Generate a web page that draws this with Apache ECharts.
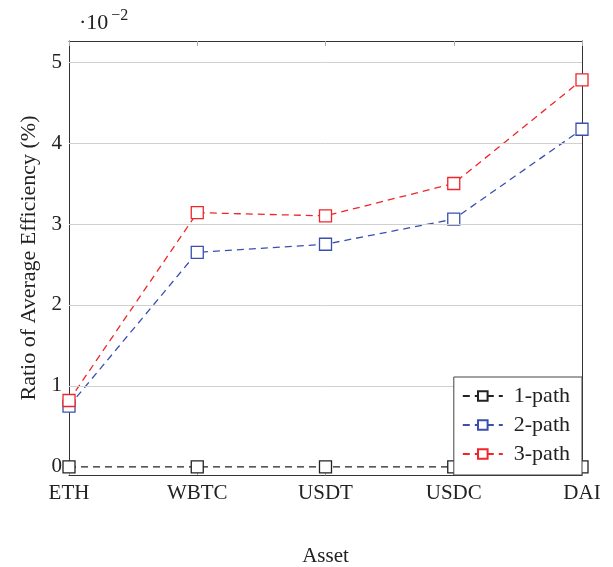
<!DOCTYPE html>
<html lang="en" style="height: 100%">
<head>
  <meta charset="UTF-8">
  <title>Ratio of Average Efficiency</title>
  <script src="https://cdn.jsdelivr.net/npm/echarts@6/dist/echarts.min.js"></script>
</head>
<body style="height: 100%; margin: 0; background: #fff">
  <div id="container" style="width: 613px; height: 567px"></div>
  <script>
    // values in units of 10^-2
    var assets = ['ETH', 'WBTC', 'USDT', 'USDC', 'DAI'];
    var path1 = [0, 0, 0, 0, 0];
    var path2 = [0.75, 2.65, 2.75, 3.06, 4.17];
    var path3 = [0.82, 3.14, 3.10, 3.50, 4.78];
    var yTicks = [0, 1, 2, 3, 4, 5];
    var gridLines = [1, 2, 3, 4, 5];

    var font = '"Liberation Serif", "DejaVu Serif", serif';
    var chart = echarts.init(document.getElementById('container'));

    function lineSeries(name, data, color) {
      return {
        name: name,
        type: 'line',
        data: data,
        symbol: 'rect',
        symbolSize: 12,
        showSymbol: true,
        itemStyle: { color: '#fff', borderColor: color, borderWidth: 1.3 },
        lineStyle: { color: color, width: 1.3, type: [7, 5] },
        z: 3
      };
    }

    var option = {
      animation: false,
      title: {
        text: '{a|·10}{b|−2}',
        left: 74,
        top: 3,
        textStyle: {
          fontWeight: 'normal',
          rich: {
            a: { fontFamily: font, fontSize: 22, color: '#222', fontWeight: 'normal' },
            b: { fontFamily: font, fontSize: 16, color: '#222', fontWeight: 'normal', padding: [0, 0, 14, 3] }
          }
        }
      },
      grid: { left: 69, right: 31, top: 41, bottom: 92, containLabel: false, outerBoundsMode: 'none' },
      legend: {
        orient: 'vertical',
        right: 31,
        bottom: 92,
        data: ['1-path', '2-path', '3-path'],
        itemWidth: 40,
        itemHeight: 12,
        itemGap: 7,
        padding: [8, 12, 10, 8],
        backgroundColor: '#fff',
        borderColor: '#444',
        borderWidth: 1,
        borderRadius: 0,
        textStyle: { fontFamily: font, fontSize: 22, color: '#222', padding: [0, 0, 0, 6] },
        z: 10
      },
      xAxis: [{
        type: 'category',
        data: assets,
        boundaryGap: false,
        name: 'Asset',
        nameLocation: 'middle',
        nameGap: 71,
        nameTextStyle: { fontFamily: font, fontSize: 21, color: '#222' },
        axisLine: { onZero: false, lineStyle: { color: '#333', width: 1 } },
        axisTick: { inside: true, length: 5, lineStyle: { color: '#aaa' } },
        axisLabel: { fontFamily: font, fontSize: 21, color: '#222', margin: 8 },
        splitLine: { show: false }
      }, {
        type: 'category',
        data: assets,
        position: 'top',
        boundaryGap: false,
        axisLine: { onZero: false, lineStyle: { color: '#333', width: 1 } },
        axisTick: { inside: true, length: 5, lineStyle: { color: '#aaa' } },
        axisLabel: { show: false },
        splitLine: { show: false }
      }],
      yAxis: [{
        type: 'value',
        min: -0.1,
        max: 5.26,
        name: 'Ratio of Average Efficiency (%)',
        nameLocation: 'middle',
        nameGap: 27,
        nameTextStyle: { fontFamily: font, fontSize: 22, color: '#222' },
        axisLine: { show: true, onZero: false, lineStyle: { color: '#333', width: 1 } },
        axisTick: { show: false },
        axisLabel: {
          fontFamily: font, fontSize: 21, color: '#222', margin: 7,
          customValues: yTicks
        },
        splitLine: { show: false }
      }, {
        type: 'value',
        min: -0.1,
        max: 5.26,
        position: 'right',
        axisLine: { show: true, onZero: false, lineStyle: { color: '#333', width: 1 } },
        axisTick: { show: false },
        axisLabel: { show: false },
        splitLine: { show: false }
      }],
      series: [
        {
          name: 'grid',
          type: 'line',
          data: [],
          silent: true,
          markLine: {
            silent: true,
            symbol: 'none',
            label: { show: false },
            lineStyle: { color: '#d0d0d0', width: 1, type: 'solid' },
            data: gridLines.map(function (v) { return { yAxis: v }; })
          },
          z: 1
        },
        lineSeries('1-path', path1, '#222'),
        lineSeries('2-path', path2, '#3a4fb0'),
        lineSeries('3-path', path3, '#f0262a')
      ]
    };
    chart.setOption(option);
  </script>
</body>
</html>
